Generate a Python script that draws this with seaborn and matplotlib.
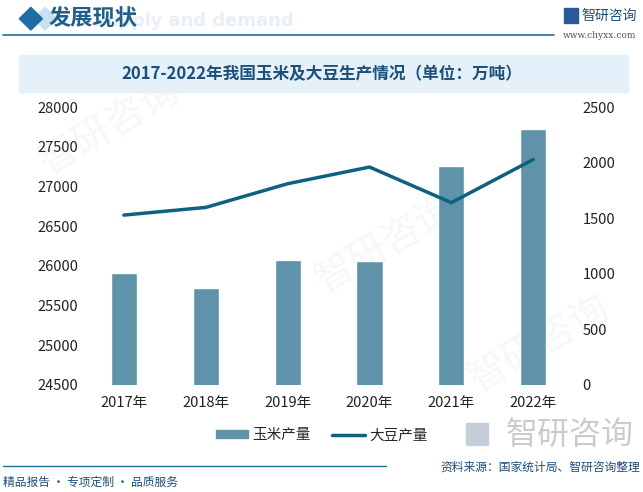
import numpy as np
import pandas as pd
import seaborn as sns
import matplotlib.pyplot as plt
from matplotlib.patches import Rectangle, Polygon, Patch
from matplotlib.lines import Line2D

# data
years = ["2017年", "2018年", "2019年", "2020年", "2021年", "2022年"]
corn = [25907, 25717, 26078, 26067, 27255, 27720]
soybean = [1528, 1597, 1810, 1960, 1640, 2028]
left_ticks = [24500, 25000, 25500, 26000, 26500, 27000, 27500, 28000]
right_ticks = [0, 500, 1000, 1500, 2000, 2500]

bar_color = "#5f93a9"
line_color = "#0f6180"
title_color = "#1d4f7a"

sns.set_theme(style="white")
plt.rcParams["font.family"] = ["Noto Sans CJK SC", "DejaVu Sans"]

df = pd.DataFrame({"year": years, "corn": corn, "soybean": soybean})

fig = plt.figure(figsize=(6.43, 4.92), dpi=100)
fig.patch.set_facecolor("white")

# very faint watermarks behind everything
for (wx, wy) in [(0.17, 0.74), (0.6, 0.5), (0.84, 0.3)]:
    fig.text(wx, wy, "智研咨询", fontsize=28, color="#f5f7f9", rotation=30,
             ha="center", va="center", zorder=-10)

# header
fig.text(0.3, 0.958, "Supply and demand", fontsize=13, color="#e8eff6",
         fontweight="bold", ha="center", va="center", family="DejaVu Sans", zorder=-5)
fig.patches.append(Polygon([[0.052, 0.962], [0.07, 0.985], [0.088, 0.962], [0.07, 0.939]],
                           closed=True, transform=fig.transFigure, color="#c9e0f0", zorder=-1))
fig.patches.append(Polygon([[0.03, 0.962], [0.048, 0.985], [0.066, 0.962], [0.048, 0.939]],
                           closed=True, transform=fig.transFigure, color="#1c6ea4"))
fig.text(0.076, 0.962, "发展现状", fontsize=16, color="#1f5f8b", fontweight="bold",
         ha="left", va="center")
fig.lines.append(Line2D([0.005, 0.862], [0.928, 0.928], transform=fig.transFigure,
                        color="#1f6e9c", lw=1.2))
fig.text(0.905, 0.968, "智研咨询", fontsize=10, color="#1f4e79", ha="left", va="center")
fig.patches.append(Rectangle((0.877, 0.954), 0.022, 0.03, transform=fig.transFigure,
                             color="#2b5a9a"))
fig.text(0.99, 0.928, "www.chyxx.com", fontsize=6.5, color="#555555", ha="right",
         va="center", family="DejaVu Serif")

# title band
fig.patches.append(Rectangle((0.03, 0.813), 0.947, 0.075, transform=fig.transFigure,
                             color="#e4f1fa", zorder=-1))
fig.text(0.5, 0.85, "2017-2022年我国玉米及大豆生产情况（单位：万吨）", fontsize=12,
         color=title_color, fontweight="bold", ha="center", va="center")

ax = fig.add_axes([0.129, 0.2175, 0.764, 0.565])
ax.set_facecolor("none")
sns.barplot(data=df, x="year", y="corn", color=bar_color, width=0.32,
            saturation=1, ax=ax, zorder=2)
ax.set_ylim(24500, 28000)
ax.set_yticks(left_ticks)
ax.set_xlim(-0.5, 5.5)
ax.set_xlabel("")
ax.set_ylabel("")
for s in ax.spines.values():
    s.set_visible(False)
ax.tick_params(axis="both", labelsize=10.5, colors="#222222", length=0)
ax.tick_params(axis="x", pad=8)

ax2 = ax.twinx()
sns.lineplot(x=np.arange(len(years)), y=soybean, color=line_color, lw=2.5, ax=ax2)
ax2.set_ylim(0, 2500)
ax2.set_yticks(right_ticks)
for s in ax2.spines.values():
    s.set_visible(False)
ax2.tick_params(axis="y", labelsize=10.5, colors="#222222", length=0, pad=6)

handles = [Patch(color=bar_color, label="玉米产量"),
           Line2D([0], [0], color=line_color, lw=2.5, label="大豆产量")]
fig.legend(handles=handles, loc="center", bbox_to_anchor=(0.5, 0.115), ncol=2,
           frameon=False, fontsize=10.5, handlelength=2.2, handleheight=0.5,
           columnspacing=1.5, handletextpad=0.3)

# footer
fig.patches.append(Rectangle((0.724, 0.095), 0.035, 0.045, transform=fig.transFigure,
                             color="#c5cdd8", zorder=-1))
fig.text(0.985, 0.117, "智研咨询", fontsize=23, color="#c8ccd2", ha="right", va="center",
         zorder=-1)
fig.lines.append(Line2D([0.005, 0.6], [0.052, 0.052], transform=fig.transFigure,
                        color="#1f6e9c", lw=1.0))
fig.text(0.005, 0.02, "精品报告 · 专项定制 · 品质服务", fontsize=8.5, color="#1f4e79",
         ha="left", va="center")
fig.text(0.995, 0.05, "资料来源：国家统计局、智研咨询整理", fontsize=8.5, color="#1f4e79",
         ha="right", va="center")

fig.savefig("out.png", dpi=100)
